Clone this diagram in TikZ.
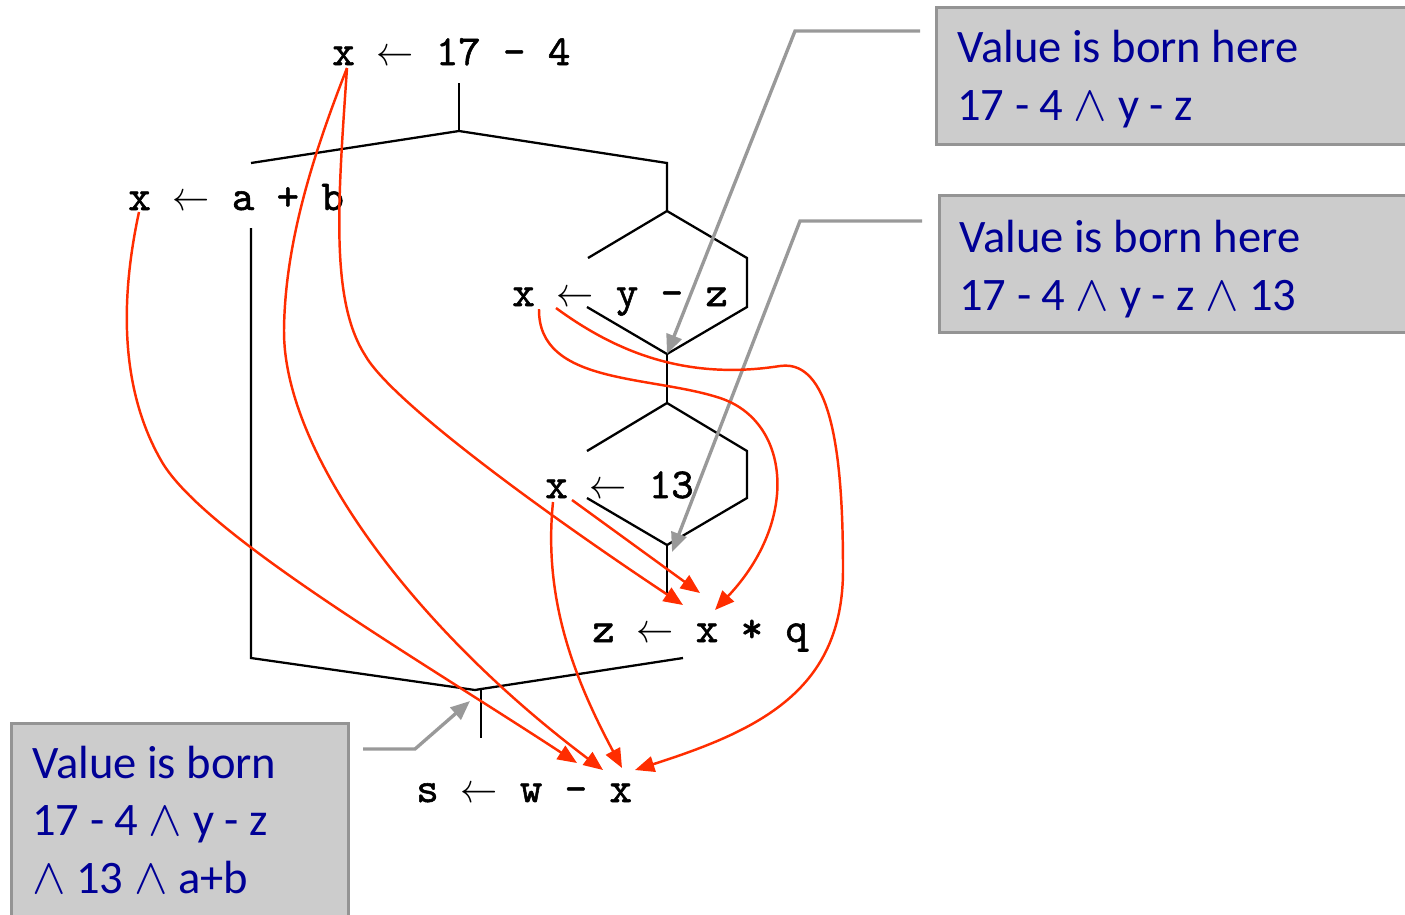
\documentclass[tikz,border=0pt]{standalone}
\usepackage{fontspec}
\usepackage{graphicx}
\usetikzlibrary{arrows.meta}
\newfontfamily\notefamily{Carlito}
\newfontfamily\codefamily{lmmono10-regular.otf}[FakeBold=1.3]
\definecolor{depred}{RGB}{255,45,0}
\definecolor{ptrgray}{RGB}{153,153,153}
\definecolor{boxfill}{RGB}{204,204,204}
\definecolor{boxline}{RGB}{148,148,148}
\definecolor{notenavy}{RGB}{0,0,150}
\newcommand\codearrow{\makebox[0.85em]{\scalebox{0.85}[0.95]{$\leftarrow$}}}
\newcommand\andop{\scalebox{1.15}{$\wedge$}}
\begin{document}
\begin{tikzpicture}[x=0.02cm,y=-0.02cm,
  code/.style={font=\fontsize{24.3pt}{28pt}\selectfont\codefamily, anchor=base west, inner sep=0pt},
  note/.style={font=\fontsize{26.5pt}{32.6pt}\selectfont\notefamily, text=notenavy, anchor=base west, inner sep=0pt, align=left},
  flow/.style={draw=black, line width=1.3pt},
  dep/.style={draw=depred, line width=1.4pt, -{Triangle[length=11pt,width=9pt]}},
  ptr/.style={draw=ptrgray, line width=1.9pt, -{Triangle[length=11pt,width=9pt]}},
  callout/.style={draw=boxline, line width=1.7pt, fill=boxfill, rectangle, anchor=north west, inner sep=0pt}]
\useasboundingbox (0,0) rectangle (1405,914);
\clip (0,0) rectangle (1405,914);

% callout boxes
\node[callout, minimum width=9.8cm, minimum height=2.74cm] (box1) at (935,6) {};
\node[callout, minimum width=9.8cm, minimum height=2.74cm] (box2) at (938,194) {};
\node[callout, minimum width=6.74cm, minimum height=4.4cm] (box3) at (10,722) {};

% (multi-line notes are anchored at the baseline of their last line)
\node[note] (n1) at (957,120) {Value is born here\\17 - 4 \andop{} y - z};
\node[note] (n2) at (959,310) {Value is born here\\17 - 4 \andop{} y - z \andop{} 13};
\node[note] (n3) at (32,893) {Value is born\\17 - 4 \andop{} y - z\\\andop{} 13 \andop{} a+b};

% code statements
\node[code] (c1) at (332,65) {x \codearrow{} 17 - 4};
\node[code] (c2) at (128,210) {x \codearrow{} a + b};
\node[code] (c3) at (512,306) {x \codearrow{} y - z};
\node[code] (c4) at (545,498) {x \codearrow{} 13};
\node[code] (c5) at (592,642) {z \codearrow{} x * q};
\node[code] (c6) at (416,802) {s \codearrow{} w - x};

% control-flow skeleton
\coordinate (top) at (459,83);
\coordinate (tj) at (459,131);
\coordinate (tl) at (251,163);
\coordinate (tr) at (667,163);
\coordinate (d1) at (667,211);
\coordinate (d1l) at (588,258);
\coordinate (d1r) at (747,258);
\coordinate (d1rb) at (747,307);
\coordinate (d1lb) at (587,307);
\coordinate (j1) at (667,354);
\coordinate (d2) at (667,403);
\coordinate (d2l) at (587,451);
\coordinate (d2r) at (747,451);
\coordinate (d2rb) at (747,498);
\coordinate (d2lb) at (587,498);
\coordinate (j2) at (667,545);
\coordinate (j2b) at (667,593);
\coordinate (l1) at (251,228);
\coordinate (l2) at (251,658);
\coordinate (bj) at (475,690);
\coordinate (bj2) at (481,689);
\coordinate (br) at (683,658);
\coordinate (bb) at (481,738);

\draw[flow] (top) -- (tj);
\draw[flow] (tl) -- (tj) -- (tr) -- (d1);
\draw[flow] (d1l) -- (d1) -- (d1r) -- (d1rb) -- (j1) -- (d1lb);
\draw[flow] (j1) -- (d2);
\draw[flow] (d2l) -- (d2) -- (d2r) -- (d2rb) -- (j2) -- (d2lb);
\draw[flow] (j2) -- (j2b);
\draw[flow] (l1) -- (l2) -- (bj) -- (bj2) -- (br);
\draw[flow] (bj2) -- (bb);

% gray pointers
\coordinate (g1s) at (920,31);
\coordinate (g1k) at (795,31);
\coordinate (g2s) at (922,221);
\coordinate (g2k) at (800,221);
\coordinate (g2t) at (672,552);
\coordinate (g3s) at (363,749);
\coordinate (g3k) at (415,749);
\coordinate (g3t) at (470,701);
\draw[ptr] (g1s) -- (g1k) -- (j1);
\draw[ptr] (g2s) -- (g2k) -- (g2t);
\draw[ptr] (g3s) -- (g3k) -- (g3t);

% def-use arrows
\coordinate (s1) at (347,68);
\coordinate (s2) at (139,212);
\coordinate (s3a) at (539,309);
\coordinate (s3b) at (556,308);
\coordinate (s4a) at (553,502);
\coordinate (s4b) at (572,500);
\coordinate (tz1) at (683,605);
\coordinate (tz2) at (700,593);
\coordinate (tz3) at (715,610);
\coordinate (ts1) at (577,763);
\coordinate (ts2) at (603,770);
\coordinate (ts3) at (622,768);
\coordinate (ts4) at (635,770);

\draw[dep] (s1) .. controls (338,200) and (330,300) .. (365,355) .. controls (390,400) and (540,510) .. (tz1);
\draw[dep] (s1) .. controls (315,150) and (285,240) .. (284,330) .. controls (283,450) and (410,625) .. (ts2);
\draw[dep] (s2) .. controls (120,300) and (120,390) .. (162,462) .. controls (205,535) and (420,660) .. (ts1);
\draw[dep] (s3a) .. controls (538,385) and (650,375) .. (720,398) .. controls (790,421) and (800,520) .. (tz3);
\draw[dep] (s3b) .. controls (620,355) and (690,380) .. (780,366) .. controls (835,358) and (843,470) .. (843,570) .. controls (843,690) and (760,730) .. (ts4);
\draw[dep] (s4a) .. controls (543,600) and (575,680) .. (ts3);
\draw[dep] (s4b) -- (tz2);
\end{tikzpicture}
\end{document}
